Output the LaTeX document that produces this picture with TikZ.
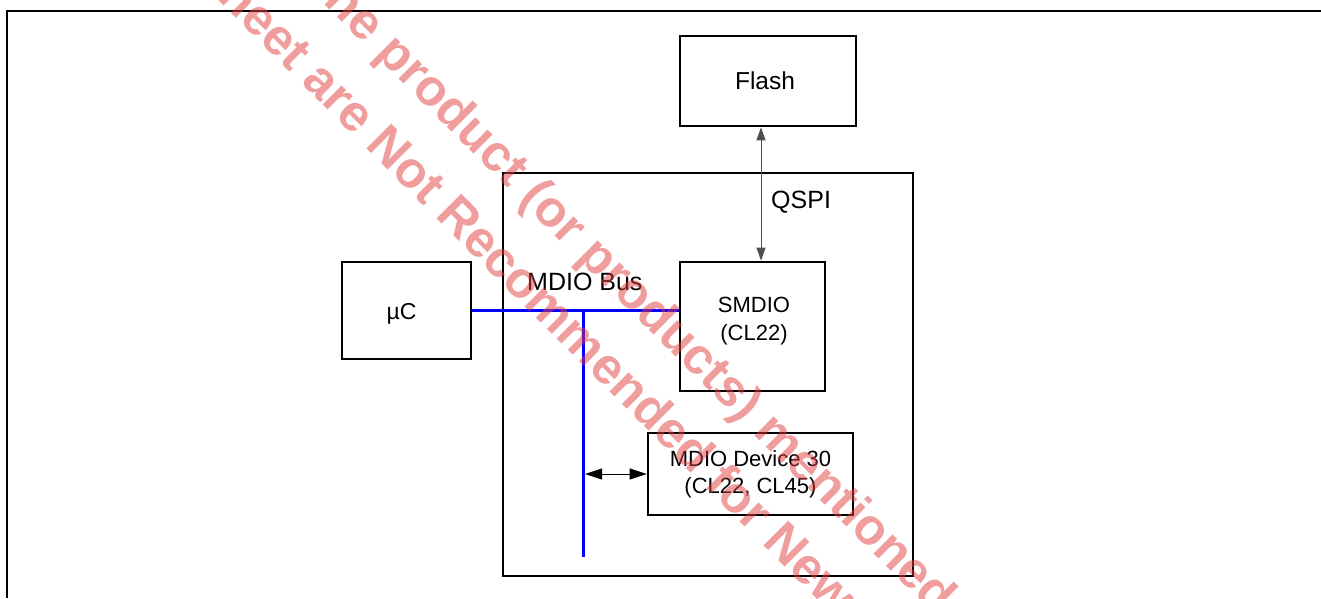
\documentclass[tikz,border=0pt]{standalone}
\usepackage{fontspec}
\setmainfont{Liberation Sans}
\usetikzlibrary{arrows.meta}
\definecolor{wmred}{RGB}{225,60,60}
\definecolor{busblue}{RGB}{0,0,255}
\definecolor{qgray}{RGB}{80,80,80}
\begin{document}
\begin{tikzpicture}[x=1pt,y=-1pt,
  box/.style={draw,line width=2.6pt,inner sep=0pt,align=center},
  bus/.style={draw=busblue,line width=2.6pt},
  link/.style={line width=1pt,{Triangle[length=13pt,width=9pt]}-{Triangle[length=13pt,width=9pt]}},
  lbl/.style={inner sep=0pt,anchor=west,font=\fontsize{25}{28}\selectfont},
  wm/.style={inner sep=0pt,anchor=base west,rotate=-45,text=wmred,text opacity=0.5,font=\bfseries\fontsize{51}{60}\selectfont}]
\useasboundingbox (0,0) rectangle (1321,598);
% frame
\coordinate (fr0) at (1321,11);
\coordinate (fr1) at (7,11);
\coordinate (fr2) at (7,598);
\draw[line width=1.4pt] (fr0) -- (fr1) -- (fr2);
% boxes
\node[box,minimum width=410pt,minimum height=403pt] (chip) at (708,374.5) {};
\node[box,minimum width=176pt,minimum height=90pt,
  label={[font=\fontsize{24.5}{28}\selectfont,xshift=-3pt]center:Flash}] (flash) at (768,81) {};
\node[box,minimum width=129pt,minimum height=97pt,
  label={[font=\fontsize{23}{28}\selectfont,xshift=-5pt,yshift=-3.5pt]center:µC}] (uc) at (406.5,310.5) {};
\node[box,minimum width=145pt,minimum height=129pt,
  label={[font=\fontsize{22}{28.3}\selectfont,align=center,xshift=1.5pt,yshift=5.5pt]center:SMDIO\\(CL22)}] (smdio) at (752.5,326.5) {};
\node[box,minimum width=205pt,minimum height=82pt,font=\fontsize{22}{26.6}\selectfont] (dev) at (750.5,474) {MDIO Device 30\\(CL22, CL45)};
% bus
\coordinate (tap) at (583.7,310.3);
\coordinate (busend) at (583.7,556.7);
\draw[bus] (uc.east |- tap) -- (tap -| smdio.west);
\draw[bus] (tap) -- (busend);
% arrows
\draw[link,qgray] ([xshift=-7pt]flash.south) -- ([xshift=-7pt]flash.south |- smdio.north);
\draw[link,{Triangle[length=17pt,width=11pt]}-{Triangle[length=17pt,width=11pt]}] ([xshift=1.3pt]tap |- dev.west) -- (dev.west);
% labels
\node[lbl] (qspi) at (771,202) {QSPI};
\node[lbl] (mdiobus) at (527,282) {MDIO Bus};
% watermark
\begin{scope}
\clip (0,0) rectangle (1321,598);
\node[wm] (wm1) at (300,-19.5) {The product (or products) mentioned in this};
\node[wm] (wm2) at (122,-96) {datasheet are Not Recommended for New Designs};
\end{scope}
\end{tikzpicture}
\end{document}
